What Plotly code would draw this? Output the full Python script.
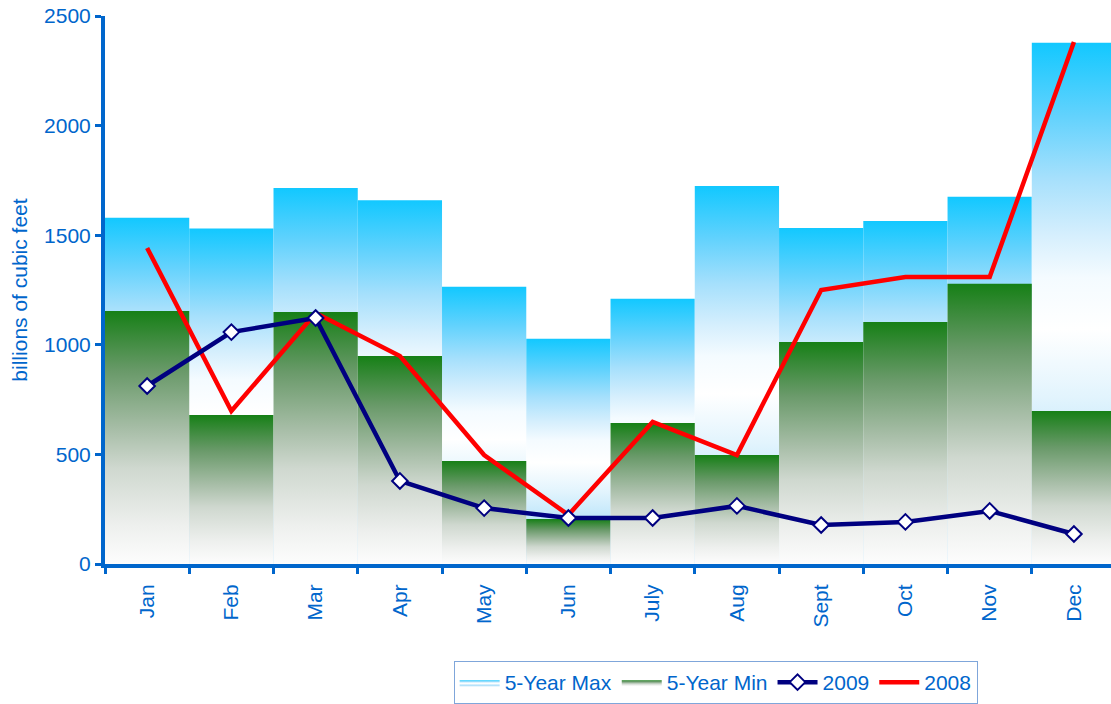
import plotly.graph_objects as go

months = ["Jan", "Feb", "Mar", "Apr", "May", "Jun",
          "July", "Aug", "Sept", "Oct", "Nov", "Dec"]
five_year_max = [1580, 1530, 1715, 1660, 1265, 1028, 1210, 1724, 1533, 1565, 1675, 2378]
five_year_min = [1154, 680, 1150, 949, 470, 205, 643, 497, 1013, 1104, 1278, 698]
y2009 = [812, 1058, 1122, 379, 255, 210, 210, 265, 178, 192, 242, 137]
y2008 = [1442, 698, 1145, 949, 497, 224, 648, 497, 1250, 1309, 1309, 2381]

BLUE = "#0066cc"
FONT = "Liberation Sans, Arial, sans-serif"

max_scale = [[0.0, "#a8dcf9"], [0.22, "#c4e8fb"], [0.32, "#e2f4fd"],
             [0.45, "#ffffff"], [0.55, "#f4fbff"], [0.63, "#d6effd"],
             [0.74, "#a6e0fc"], [0.86, "#62d2fd"], [1.0, "#12c8ff"]]
min_scale = [[0.0, "#fdfdfd"], [0.15, "#eef0ee"], [0.38, "#cfd8cf"],
             [0.53, "#a8bea8"], [0.76, "#6a9a6a"], [0.9, "#3a8a3a"],
             [1.0, "#168016"]]

fig = go.Figure()


def add_bars(values, name, scale, rank):
    # each bar is a filled rectangle so it can carry its own vertical gradient
    for i, v in enumerate(values):
        fig.add_trace(go.Scatter(
            x=[i - 0.5, i - 0.5, i + 0.5, i + 0.5, i - 0.5],
            y=[0, v, v, 0, 0],
            mode="lines", fill="toself",
            line=dict(width=0),
            fillgradient=dict(type="vertical", colorscale=scale, start=0, stop=v),
            name=name, legendgroup=name, showlegend=(i == 0), legendrank=rank,
            hoverinfo="skip",
        ))


add_bars(five_year_max, "5-Year Max", max_scale, 1)
add_bars(five_year_min, "5-Year Min", min_scale, 2)

x_idx = list(range(len(months)))

fig.add_trace(go.Scatter(
    x=x_idx, y=y2008, name="2008", mode="lines",
    line=dict(color="#ff0000", width=4.5), legendrank=4,
))
fig.add_trace(go.Scatter(
    x=x_idx, y=y2009, name="2009", mode="lines+markers",
    line=dict(color="#000080", width=4.5),
    marker=dict(symbol="diamond", size=12, color="white",
                line=dict(color="#000080", width=2)),
    legendrank=3,
))

fig.update_layout(
    width=1111, height=704,
    margin=dict(l=105, r=0, t=16, b=138),
    plot_bgcolor="white", paper_bgcolor="white",
    font=dict(family=FONT, color=BLUE, size=21),
    showlegend=True,
    legend=dict(
        orientation="h", x=0.607, xanchor="center", y=-0.177, yanchor="top",
        bordercolor="#7fa6da", borderwidth=1, bgcolor="white",
        font=dict(size=21, color=BLUE), traceorder="normal",
        itemwidth=40,
    ),
)

fig.update_xaxes(
    range=[-0.5, 11.44],
    tickmode="array", tickvals=x_idx, ticktext=months,
    tickangle=-90, ticks="", ticklabelstandoff=8,
    showgrid=False, zeroline=False,
    showline=True, linecolor=BLUE, linewidth=4,
    tickfont=dict(size=21, color=BLUE),
    minor=dict(tickmode="array", tickvals=[i - 0.5 for i in range(13)],
               ticks="outside", ticklen=6, tickwidth=3, tickcolor=BLUE,
               showgrid=False),
    layer="above traces",
)

fig.update_yaxes(
    range=[0, 2500], tickmode="linear", tick0=0, dtick=500,
    ticks="outside", ticklen=6, tickwidth=3, tickcolor=BLUE,
    showgrid=False, zeroline=False,
    showline=True, linecolor=BLUE, linewidth=4,
    tickfont=dict(size=21, color=BLUE),
    title=dict(text="billions of cubic feet", font=dict(size=21, color=BLUE), standoff=12),
    layer="above traces",
)

fig.write_html("out.html")
